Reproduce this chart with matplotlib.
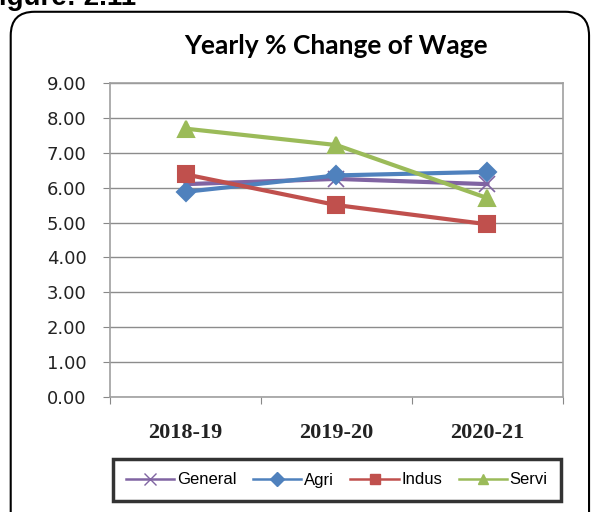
import matplotlib.pyplot as plt
from matplotlib.lines import Line2D
from matplotlib.patches import FancyBboxPatch

years = ["2018-19", "2019-20", "2020-21"]
general = [6.10, 6.25, 6.10]
agri = [5.88, 6.35, 6.45]
indus = [6.38, 5.50, 4.95]
servi = [7.69, 7.22, 5.70]

series = [
    ("General", general, "#8064A2", "x", 12),
    ("Agri", agri, "#4F81BD", "D", 9),
    ("Indus", indus, "#C0504D", "s", 11),
    ("Servi", servi, "#9BBB59", "^", 11),
]


def main():
    fig = plt.figure(figsize=(5.95, 5.12), dpi=100)

    # outer rounded frame
    frame = FancyBboxPatch((0.018, -0.05), 0.972, 1.027, boxstyle="round,pad=0,rounding_size=0.04",
                           transform=fig.transFigure, fill=False, ec="black", lw=1.5,
                           mutation_aspect=595 / 512)
    fig.patches.append(frame)
    fig.text(-0.03, 1 - 5 / 512, "Figure: 2.11", fontsize=20, fontweight="bold", va="baseline",
             ha="left", family="Liberation Sans")

    ax = fig.add_axes([0.185, 0.2246, 0.761, 0.6134])
    x = list(range(len(years)))
    for name, vals, color, marker, ms in series:
        ax.plot(x, vals, color=color, lw=3, marker=marker, markersize=ms,
                markeredgewidth=1.5 if marker != "x" else 1.2, label=name, zorder=3)

    ax.set_xlim(-0.5, 2.5)
    ax.set_ylim(0, 9)
    ax.set_yticks(range(10))
    ax.set_yticklabels([f"{v:.2f}" for v in range(10)], family="DejaVu Sans", fontsize=13,
                       color="#222222")
    ax.set_xticks([-0.5, 0.5, 1.5, 2.5])
    ax.set_xticklabels([])
    ax.set_xticks(x, minor=True)
    ax.set_xticklabels(years, minor=True, family="Liberation Serif", fontweight="bold", fontsize=16,
                       color="#222222")
    ax.tick_params(axis="x", which="minor", length=0, pad=19)
    ax.tick_params(axis="x", which="major", length=5, color="#888888")
    ax.tick_params(axis="y", length=5, color="#888888", pad=12)
    ax.grid(axis="y", color="#8c8c8c", lw=1)
    ax.set_axisbelow(True)
    for s in ax.spines.values():
        s.set_color("#a0a0a0")
        s.set_linewidth(1.2)

    ax.set_title("Yearly % Change of Wage", fontsize=19, fontweight="bold", family="Lato", pad=21)

    handles = [Line2D([], [], color=c, lw=1.8, marker=m, markersize=7 if m != "x" else 9, label=n)
               for n, v, c, m, ms in series]
    leg = fig.legend(handles=handles, loc="center", bbox_to_anchor=(0.566, 0.0625), ncol=4,
                     frameon=True, fancybox=False, edgecolor="black", handlelength=2.9,
                     handletextpad=0.15, columnspacing=1.0, borderpad=0.8,
                     prop={"family": "Liberation Sans", "size": 12})
    leg.get_frame().set_linewidth(2.5)

    fig.savefig("out.png", dpi=100)


if __name__ == "__main__":
    main()
